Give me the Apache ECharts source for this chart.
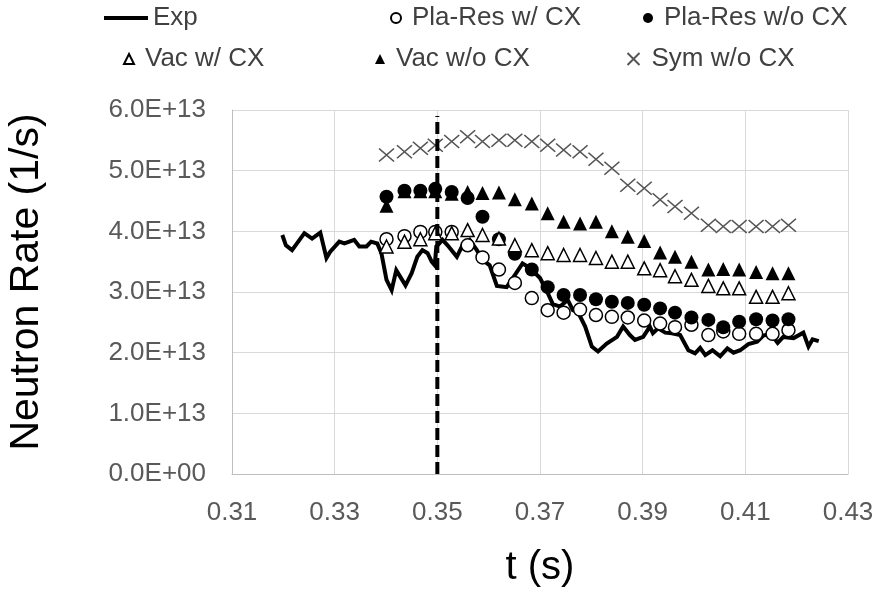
<!DOCTYPE html>
<html style="height: 100%">
<head>
	<meta charset="utf-8">
</head>
<body style="height: 100%; margin: 0; background: #fff">
	<div id="container" style="width: 887px; height: 599px"></div>
	<script type="text/javascript" src="https://cdn.jsdelivr.net/npm/echarts@6/dist/echarts.min.js"></script>
	<script type="text/javascript">
		// values in units of 1E+13 (1/s)
		var SCALE = 1e13;

		// measured trace
		var expT = [0.3198, 0.3205, 0.3217, 0.3241, 0.3256, 0.3272, 0.3284, 0.3291, 0.3309, 0.3319,
			0.3338, 0.3348, 0.3362, 0.3371, 0.3383, 0.3391, 0.3401, 0.3411, 0.3420, 0.3438,
			0.3450, 0.3461, 0.3471, 0.3481, 0.3489, 0.3495, 0.3498, 0.3504, 0.3510, 0.3520,
			0.3538, 0.3549, 0.3563, 0.3577, 0.3588, 0.3602, 0.3616, 0.3625, 0.3635, 0.3647,
			0.3666, 0.3680, 0.3700, 0.3713, 0.3725, 0.3739, 0.3754, 0.3764, 0.3774, 0.3788,
			0.3801, 0.3813, 0.3830, 0.3850, 0.3862, 0.3875, 0.3885, 0.3901, 0.3914, 0.3920,
			0.3930, 0.3944, 0.3957, 0.3973, 0.3989, 0.4002, 0.4012, 0.4022, 0.4036, 0.4051,
			0.4065, 0.4077, 0.4090, 0.4106, 0.4123, 0.4135, 0.4149, 0.4163, 0.4174, 0.4194,
			0.4213, 0.4223, 0.4231, 0.4243];
		var expV = [3.94, 3.77, 3.69, 3.97, 3.88, 3.98, 3.56, 3.66, 3.83, 3.80,
			3.86, 3.75, 3.75, 3.83, 3.80, 3.64, 3.20, 3.03, 3.36, 3.11,
			3.31, 3.58, 3.69, 3.64, 3.50, 3.44, 3.75, 3.80, 3.86, 3.77,
			3.58, 3.77, 3.86, 3.69, 3.53, 3.44, 3.10, 3.09, 3.08, 3.23,
			3.47, 3.40, 3.23, 3.02, 2.80, 2.76, 2.87, 2.70, 2.67, 2.43,
			2.10, 2.02, 2.15, 2.26, 2.43, 2.29, 2.21, 2.26, 2.43, 2.32,
			2.40, 2.33, 2.32, 2.29, 2.04, 1.99, 2.08, 1.96, 2.04, 1.94,
			2.07, 2.00, 2.04, 2.14, 2.18, 2.28, 2.32, 2.16, 2.26, 2.24,
			2.33, 2.10, 2.22, 2.19];

		// simulation time points
		var simT = [0.3401, 0.3436, 0.3467, 0.3496, 0.3528, 0.3559, 0.3588, 0.3620, 0.3651, 0.3684,
			0.3715, 0.3746, 0.3778, 0.3809, 0.3840, 0.3871, 0.3903, 0.3934, 0.3963, 0.3995,
			0.4028, 0.4057, 0.4088, 0.4121, 0.4153, 0.4184];
		var plaResCX = [3.87, 3.92, 3.99, 3.99, 3.99, 3.77, 3.57, 3.37, 3.15, 2.90,
			2.70, 2.66, 2.71, 2.62, 2.59, 2.58, 2.53, 2.48, 2.42, 2.46,
			2.29, 2.35, 2.31, 2.31, 2.31, 2.37];
		var plaResNoCX = [4.57, 4.67, 4.67, 4.70, 4.65, 4.55, 4.24, 3.87, 3.63, 3.37,
			3.08, 2.95, 2.95, 2.88, 2.84, 2.82, 2.79, 2.73, 2.66, 2.58,
			2.54, 2.42, 2.51, 2.55, 2.53, 2.55];
		var vacCX = [3.75, 3.83, 3.87, 3.97, 3.97, 4.02, 3.94, 3.88, 3.77, 3.69,
			3.64, 3.61, 3.61, 3.56, 3.50, 3.50, 3.39, 3.36, 3.26, 3.20,
			3.10, 3.06, 3.06, 2.92, 2.92, 2.98];
		var vacNoCX = [4.42, 4.66, 4.66, 4.66, 4.62, 4.65, 4.63, 4.64, 4.53, 4.46,
			4.30, 4.16, 4.13, 4.16, 4.00, 3.91, 3.84, 3.65, 3.58, 3.50,
			3.37, 3.38, 3.37, 3.33, 3.31, 3.31];
		var symNoCX = [5.26, 5.31, 5.37, 5.42, 5.48, 5.56, 5.48, 5.50, 5.50, 5.48,
			5.42, 5.34, 5.31, 5.19, 5.04, 4.76, 4.71, 4.52, 4.41, 4.30,
			4.10, 4.08, 4.08, 4.08, 4.08, 4.10];

		var markT = 0.35;
		var markTop = 5.9;

		function pairs(ts, vs) {
			return ts.map(function(t, i) {
				return [t, vs[i] * SCALE];
			});
		}

		function sci(v) {
			if(v === 0) return '0.0E+00';
			var e = Math.floor(Math.log10(v) + 1e-9);
			var m = v / Math.pow(10, e);
			return m.toFixed(1) + 'E+' + (e < 10 ? '0' + e : e);
		}

		var FONT = 'Liberation Sans, Arial, sans-serif';
		var legText = { fontFamily: FONT, fontSize: 26, color: '#404040', padding: [0, 0, 0, 6] };
		var xPath = 'path://M0,0L10,10M10,0L0,10';

		function leg(name, left, top, extra) {
			var l = {
				data: [name], left: left, top: top, padding: 0,
				itemWidth: 10, itemHeight: 10,
				textStyle: legText, selectedMode: false
			};
			for(var k in extra) l[k] = extra[k];
			return l;
		}

		var dom = document.getElementById('container');
		var myChart = echarts.init(dom, null, { renderer: 'canvas' });
		var option = {
			animation: false,
			backgroundColor: '#fff',
			legend: [
				leg('Exp', 104, 5, { itemWidth: 44, itemHeight: 4, icon: 'rect',
					textStyle: { fontFamily: FONT, fontSize: 26, color: '#404040', padding: [0, 0, 0, 0] } }),
				leg('Pla-Res w/ CX', 390, 5),
				leg('Pla-Res w/o CX', 643, 5),
				leg('Vac w/ CX', 123, 46),
				leg('Vac w/o CX', 375, 46),
				leg('Sym w/o CX', 625, 46, { itemWidth: 14, itemHeight: 12 })
			],
			grid: {
				left: 232,
				right: 39,
				top: 110,
				bottom: 125,
				outerBoundsMode: 'none'
			},
			xAxis: {
				type: 'value',
				min: 0.31,
				max: 0.43,
				interval: 0.02,
				name: 't (s)',
				nameLocation: 'middle',
				nameGap: 74,
				nameTextStyle: { fontFamily: FONT, fontSize: 40, color: '#000' },
				axisLine: { show: true, lineStyle: { color: '#bfbfbf', width: 1 } },
				axisTick: { show: false },
				axisLabel: {
					margin: 26,
					fontFamily: FONT,
					fontSize: 26,
					color: '#595959',
					formatter: function(v) { return v.toFixed(2); }
				},
				splitLine: { show: true, lineStyle: { color: '#d9d9d9', width: 1 } }
			},
			yAxis: {
				type: 'value',
				min: 0,
				max: 6e13,
				interval: 1e13,
				name: 'Neutron Rate (1/s)',
				nameLocation: 'middle',
				nameRotate: 90,
				nameGap: 185,
				nameTextStyle: { fontFamily: FONT, fontSize: 41, color: '#000', padding: [0, 0, 0, 20] },
				axisLine: { show: true, lineStyle: { color: '#bfbfbf', width: 1 } },
				axisTick: { show: false },
				axisLabel: {
					margin: 26,
					fontFamily: FONT,
					fontSize: 26,
					color: '#595959',
					formatter: sci
				},
				splitLine: { show: true, lineStyle: { color: '#d9d9d9', width: 1 } }
			},
			series: [{
				name: 'Exp',
				type: 'line',
				data: pairs(expT, expV),
				showSymbol: false,
				symbol: 'none',
				itemStyle: { color: '#000' },
				lineStyle: { color: '#000', width: 4, join: 'miter' },
				z: 2
			}, {
				name: 'Pla-Res w/ CX',
				type: 'scatter',
				data: pairs(simT, plaResCX),
				symbol: 'circle',
				symbolSize: 13,
				itemStyle: { color: '#fff', borderColor: '#000', borderWidth: 1.5, opacity: 1 },
				z: 3
			}, {
				name: 'Pla-Res w/o CX',
				type: 'scatter',
				data: pairs(simT, plaResNoCX),
				symbol: 'circle',
				symbolSize: 14,
				itemStyle: { color: '#000', opacity: 1 },
				z: 3
			}, {
				name: 'Vac w/ CX',
				type: 'scatter',
				data: pairs(simT, vacCX),
				symbol: 'triangle',
				symbolSize: 13,
				itemStyle: { color: '#fff', borderColor: '#000', borderWidth: 1.5, opacity: 1 },
				z: 3
			}, {
				name: 'Vac w/o CX',
				type: 'scatter',
				data: pairs(simT, vacNoCX),
				symbol: 'triangle',
				symbolSize: 14,
				itemStyle: { color: '#000', opacity: 1 },
				z: 3
			}, {
				name: 'Sym w/o CX',
				type: 'scatter',
				data: pairs(simT, symNoCX),
				symbol: xPath,
				symbolSize: [15, 13],
				itemStyle: { color: 'none', borderColor: '#555', borderWidth: 1.5, opacity: 1 },
				z: 3
			}, {
				name: 't0',
				type: 'line',
				data: [[markT, 0], [markT, markTop * SCALE]],
				showSymbol: false,
				symbol: 'none',
				lineStyle: { color: '#000', width: 4, type: [12, 5] },
				z: 4
			}]
		};
		myChart.setOption(option);
	</script>
</body>
</html>
